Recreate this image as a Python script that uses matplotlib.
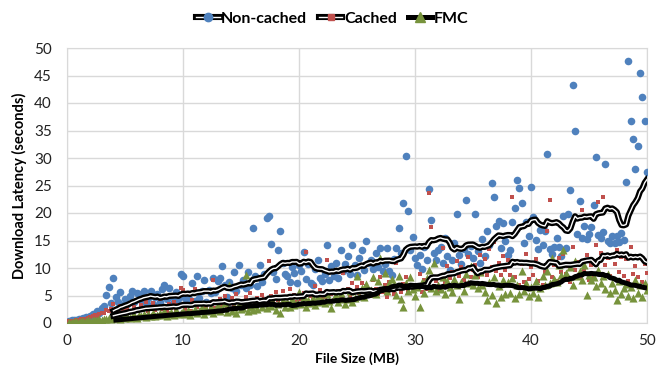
import numpy as np
import pandas as pd
import matplotlib
matplotlib.use("Agg")
import matplotlib.pyplot as plt
import matplotlib.patheffects as pe
from matplotlib.lines import Line2D
from matplotlib.legend_handler import HandlerTuple

plt.rcParams['font.family'] = ['Lato', 'DejaVu Sans']

# file sizes swept in 0.2 MB steps
file_size = np.round(np.arange(1, 251) * 0.2, 1)

# download latency (s), one row per 5 MB
non_cached = [
    0.4, 0.5, 0.5, 0.6, 0.7, 0.8, 0.9, 1.1, 1.0, 1.3, 1.6, 1.4, 2.2, 1.9, 2.8, 3.1, 5.1, 6.5, 3.6, 8.2, 4.8, 3.9, 5.6, 3.2, 4.4,
    3.5, 4.9, 5.8, 3.8, 5.4, 5.3, 4.1, 5.8, 3.6, 4.6, 5.9, 3.4, 4.8, 5.2, 3.9, 6.1, 7.0, 4.4, 6.4, 5.0, 3.8, 5.6, 4.3, 9.0, 8.5,
    4.6, 5.2, 4.1, 7.3, 4.0, 8.6, 4.5, 5.8, 7.9, 3.9, 6.0, 5.4, 8.2, 5.7, 7.6, 8.1, 10.4, 6.9, 4.8, 7.5, 6.3, 9.2, 5.9, 10.5, 7.0,
    7.8, 6.4, 9.2, 6.9, 17.3, 8.5, 6.8, 10.6, 7.4, 9.0, 19.1, 19.5, 14.4, 9.2, 8.0, 13.2, 16.8, 11.0, 9.0, 8.6, 7.4, 10.2, 9.1, 7.3, 10.6,
    9.5, 13.0, 8.0, 10.8, 7.2, 6.9, 9.8, 11.5, 8.2, 7.6, 9.0, 14.2, 7.8, 10.3, 8.5, 11.0, 8.2, 13.3, 9.4, 10.7, 12.1, 9.0, 14.2, 10.5, 8.8,
    11.8, 13.3, 9.6, 15.0, 10.9, 11.5, 9.9, 12.8, 10.2, 13.6, 9.4, 10.8, 13.6, 9.5, 8.7, 11.6, 13.7, 17.3, 12.8, 21.8, 30.4, 20.3, 13.2, 15.6, 11.8,
    10.6, 12.3, 9.8, 13.9, 11.5, 24.4, 18.8, 12.7, 11.4, 13.2, 13.8, 10.9, 15.4, 12.1, 9.6, 11.5, 14.6, 19.9, 12.3, 10.8, 13.4, 22.4, 12.6, 14.0, 11.8,
    19.9, 13.1, 10.9, 15.2, 12.2, 16.8, 14.1, 25.5, 23.0, 17.6, 18.5, 13.6, 18.1, 15.0, 12.4, 13.2, 18.3, 20.9, 26.0, 24.5, 21.8, 14.5, 18.4, 15.8, 24.8,
    19.2, 15.1, 13.5, 16.9, 14.2, 16.8, 30.8, 13.5, 12.6, 13.8, 15.5, 13.9, 12.2, 19.4, 13.6, 19.9, 24.1, 43.3, 35.0, 16.2, 22.2, 15.5, 17.6, 15.3, 16.2,
    17.5, 21.5, 30.2, 16.0, 15.4, 16.5, 29.0, 15.0, 14.6, 15.8, 14.5, 15.9, 14.8, 16.4, 15.1, 25.6, 47.6, 36.8, 33.5, 28.0, 32.1, 45.5, 41.1, 36.7, 27.4,
]

cached = [
    0.3, 0.4, 0.4, 0.5, 0.6, 0.7, 0.8, 0.8, 1.0, 1.1, 1.2, 1.4, 1.3, 1.6, 1.9, 1.8, 2.4, 2.1, 2.6, 3.4, 2.2, 1.9, 3.1, 2.5, 2.0,
    2.8, 3.5, 2.1, 2.9, 4.0, 2.4, 3.2, 2.7, 3.8, 2.2, 2.6, 3.6, 2.3, 3.0, 4.4, 2.5, 3.1, 2.0, 3.4, 2.7, 3.9, 2.4, 3.3, 6.4, 6.0,
    2.6, 3.3, 2.1, 4.2, 6.1, 2.9, 3.5, 2.4, 3.7, 3.0, 3.4, 2.6, 7.9, 2.8, 3.6, 4.4, 3.1, 5.0, 2.7, 3.9, 4.6, 3.3, 5.2, 3.8, 4.0,
    3.5, 4.8, 3.0, 5.4, 4.1, 3.8, 4.6, 3.2, 5.1, 4.4, 3.6, 11.2, 4.9, 3.9, 5.6, 4.2, 3.4, 5.8, 4.7, 3.6, 6.2, 4.5, 5.1, 3.9, 4.8,
    4.3, 5.4, 13.0, 3.8, 4.9, 4.4, 6.7, 5.1, 6.0, 4.6, 4.8, 11.5, 3.9, 5.3, 4.2, 4.7, 5.8, 4.5, 9.1, 4.0, 6.1, 4.8, 7.2, 5.6, 6.5,
    5.4, 7.3, 4.6, 6.8, 5.9, 4.9, 7.8, 6.2, 5.3, 8.4, 5.7, 6.9, 4.8, 7.5, 6.1, 5.2, 10.9, 6.4, 5.6, 7.1, 8.3, 5.9, 6.7, 6.3, 7.0,
    6.4, 9.0, 5.6, 7.9, 6.1, 23.7, 17.5, 6.8, 7.6, 5.9, 8.6, 13.6, 7.2, 10.4, 8.1, 9.3, 7.0, 11.2, 8.5, 10.1, 7.8, 9.9, 12.0, 8.4, 9.6,
    10.5, 8.3, 12.4, 9.0, 11.6, 8.7, 13.5, 10.2, 14.8, 9.4, 10.9, 8.8, 12.1, 9.6, 11.5, 8.7, 23.0, 8.3, 11.1, 7.0, 10.8, 7.5, 12.6, 8.0, 10.2,
    8.8, 11.7, 7.6, 10.4, 6.9, 9.2, 16.7, 22.4, 8.3, 10.5, 7.6, 11.9, 9.3, 12.6, 8.9, 10.4, 7.4, 13.8, 9.6, 11.1, 8.2, 20.6, 9.7, 12.4, 7.8,
    10.6, 8.4, 14.2, 22.0, 12.8, 23.0, 10.5, 11.9, 8.6, 12.2, 10.8, 13.3, 9.2, 12.0, 8.5, 11.7, 7.6, 13.8, 9.0, 10.4, 8.3, 12.2, 7.5, 10.8, 9.1,
]

fmc = [
    0.1, 0.2, 0.2, 0.3, 0.2, 0.3, 0.4, 0.3, 0.5, 0.4, 0.5, 0.6, 0.5, 0.7, 0.6, 0.8, 0.7, 0.9, 0.8, 1.0, 0.9, 1.1, 0.8, 1.2, 1.0,
    1.3, 0.9, 1.1, 1.5, 1.0, 1.4, 1.2, 1.7, 1.1, 1.6, 1.3, 1.9, 1.2, 1.5, 1.8, 1.4, 2.1, 1.3, 1.7, 2.0, 1.5, 2.3, 1.6, 1.9, 2.2,
    1.7, 2.4, 1.5, 2.0, 2.6, 1.8, 2.2, 2.9, 1.6, 2.5, 2.1, 3.0, 1.9, 2.4, 3.3, 2.2, 2.8, 3.6, 2.0, 7.0, 2.2, 3.0, 1.9, 3.4, 2.5,
    2.7, 8.8, 2.1, 2.9, 2.4, 3.3, 2.6, 4.0, 2.9, 3.7, 2.7, 4.3, 3.1, 3.6, 2.4, 3.5, 1.8, 4.1, 3.0, 3.8, 2.9, 4.4, 3.2, 3.6, 5.7,
    3.4, 4.8, 2.9, 4.1, 3.7, 4.5, 3.2, 5.0, 3.8, 4.2, 3.6, 5.3, 4.0, 2.8, 4.6, 4.9, 3.9, 5.5, 4.3, 3.5, 4.4, 5.8, 3.9, 4.6, 8.5,
    5.0, 6.3, 4.7, 7.1, 5.5, 6.0, 8.4, 5.2, 7.6, 11.8, 6.4, 9.1, 5.8, 7.3, 8.0, 6.9, 5.1, 8.6, 4.4, 3.0, 7.2, 5.9, 8.3, 6.1, 4.9,
    6.6, 3.0, 7.4, 5.5, 8.2, 9.6, 6.3, 10.9, 5.8, 7.0, 6.1, 8.4, 5.2, 7.7, 6.5, 5.7, 8.0, 6.9, 4.3, 7.4, 5.8, 8.9, 7.2, 10.4, 6.9,
    8.8, 6.4, 9.3, 7.0, 5.6, 4.2, 7.5, 5.1, 8.3, 3.6, 6.8, 4.7, 7.9, 5.3, 7.4, 5.5, 8.1, 4.6, 6.9, 5.2, 9.5, 5.8, 7.3, 4.9, 6.6,
    5.4, 7.7, 4.8, 6.3, 8.5, 6.9, 9.4, 7.2, 11.8, 8.0, 7.5, 10.6, 8.8, 13.3, 9.1, 8.3, 10.1, 7.0, 11.2, 8.6, 9.4, 7.8, 10.5, 5.1, 8.7,
    7.9, 8.4, 6.8, 9.7, 7.2, 8.5, 6.1, 9.0, 5.4, 7.3, 6.0, 4.2, 7.6, 5.2, 6.4, 7.1, 5.0, 6.6, 4.6, 7.8, 5.5, 6.9, 4.8, 7.2, 6.0,
]

labels = ["Non-cached", "Cached", "FMC"]
colors = ["#4f81bd", "#c0504d", "#77933c"]
window = 20  # moving-average period (points)

df = pd.DataFrame({"size": file_size, "Non-cached": non_cached,
                   "Cached": cached, "FMC": fmc})

fig = plt.figure(figsize=(6.64, 3.79), dpi=100)
ax = fig.add_axes([67 / 664, 1 - 323 / 379, 580 / 664, 275 / 379])

ax.scatter(df["size"], df["Non-cached"], s=30, marker="o", color=colors[0], lw=0, zorder=3)
ax.scatter(df["size"], df["Cached"], s=10, marker="s", color=colors[1], lw=0, zorder=3)
ax.scatter(df["size"], df["FMC"], s=34, marker="^", color=colors[2], lw=0, zorder=3)

double = [pe.Stroke(linewidth=4.4, foreground="black"), pe.Normal()]
for name in ["Non-cached", "Cached"]:
    ma = df[name].rolling(window).mean()
    ax.plot(df["size"], ma, color="white", lw=1.0, path_effects=double, zorder=4)
ma_fmc = df["FMC"].rolling(window).mean()
ax.plot(df["size"], ma_fmc, color="black", lw=3.6, zorder=4, solid_capstyle="butt")

ax.set_xlim(0, 50)
ax.set_ylim(0, 50)
ax.set_xticks(range(0, 51, 10))
ax.set_yticks(range(0, 51, 5))
ax.grid(True, color="#d9d9d9", lw=1.0)
ax.set_axisbelow(True)
for sp in ax.spines.values():
    sp.set_color("#d9d9d9")
ax.tick_params(length=0, labelsize=11, colors="#222222")
ax.tick_params(axis="y", pad=11)
ax.tick_params(axis="x", pad=8)

ax.set_xlabel("File Size (MB)", fontsize=10, fontweight="bold", labelpad=3)
ax.set_ylabel("Download Latency (seconds)", fontsize=10.5, fontweight="bold", labelpad=5)

h_nc = (Line2D([], [], color="white", lw=1.0, path_effects=double),
        Line2D([], [], ls="none", marker="o", ms=6, color=colors[0]))
h_c = (Line2D([], [], color="white", lw=1.0, path_effects=double),
       Line2D([], [], ls="none", marker="s", ms=5, color=colors[1]))
h_f = (Line2D([], [], color="black", lw=3.6),
       Line2D([], [], ls="none", marker="^", ms=6.5, color=colors[2]))
fig.legend([h_nc, h_c, h_f], labels, handler_map={tuple: HandlerTuple(ndivide=1)},
           loc="center", bbox_to_anchor=(0.5, 1 - 19 / 379), ncol=3, frameon=False,
           prop={"weight": "bold", "size": 11.5}, handlelength=1.5, handletextpad=0.1,
           columnspacing=0.7, borderaxespad=0)

fig.savefig("out.png", dpi=100)
